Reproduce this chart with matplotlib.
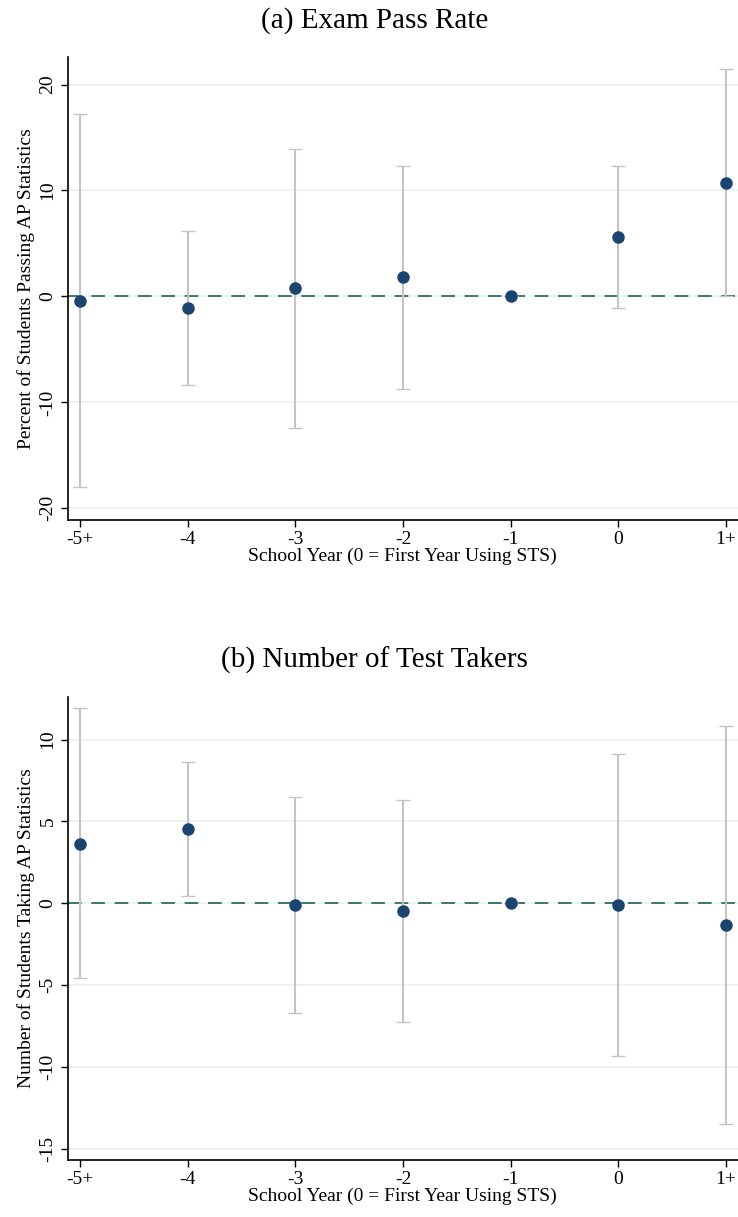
import numpy as np
import matplotlib.pyplot as plt

# event-study estimates
years = ['-5+', '-4', '-3', '-2', '-1', '0', '1+']

pass_coef = [-0.45, -1.1, 0.76, 1.85, 0.0, 5.6, 10.7]
pass_lo = [-18.0, -8.4, -12.4, -8.7, 0.0, -1.1, 0.0]
pass_hi = [17.2, 6.2, 13.9, 12.35, 0.0, 12.3, 21.5]

takers_coef = [3.63, 4.51, -0.1, -0.47, 0.0, -0.12, -1.33]
takers_lo = [-4.6, 0.43, -6.7, -7.27, 0.0, -9.34, -13.48]
takers_hi = [11.9, 8.6, 6.47, 6.33, 0.0, 9.09, 10.82]

plt.rcParams['font.family'] = ['Liberation Serif', 'DejaVu Serif']

fig = plt.figure(figsize=(7.38, 12.17), dpi=100)

panels = [
    dict(rect=[0.0917, 0.5727, 0.9083, 0.3805], coef=pass_coef, lo=pass_lo, hi=pass_hi,
         ylim=(-21.1, 22.6), yticks=[-20, -10, 0, 10, 20], title_y=0.983,
         title='(a) Exam Pass Rate', ylabel='Percent of Students Passing AP Statistics'),
    dict(rect=[0.0917, 0.0468, 0.9083, 0.3805], coef=takers_coef, lo=takers_lo, hi=takers_hi,
         ylim=(-15.7, 12.6), yticks=[-15, -10, -5, 0, 5, 10], title_y=0.457,
         title='(b) Number of Test Takers', ylabel='Number of Students Taking AP Statistics'),
]

x = np.arange(len(years))
for p in panels:
    ax = fig.add_axes(p['rect'])
    coef = np.array(p['coef'])
    err = [coef - np.array(p['lo']), np.array(p['hi']) - coef]
    for yt in p['yticks']:
        ax.axhline(yt, color='#eaf0f3', lw=1.3, zorder=0)
    ax.axhline(0, color='#3b7774', lw=1.4, ls=(0, (7, 5)), zorder=1)
    ax.errorbar(x, coef, yerr=err, fmt='none', ecolor='#c4c4c4', elinewidth=1.5,
                capsize=5, capthick=1.0, zorder=2)
    ax.plot(x, coef, 'o', color='#1a4570', ms=8, zorder=3)
    ax.set_xlim(-0.114, 6.11)
    ax.set_ylim(*p['ylim'])
    ax.set_xticks(x)
    ax.set_xticklabels(years)
    ax.set_yticks(p['yticks'])
    ax.set_yticklabels([str(t) for t in p['yticks']], rotation=90, va='center')
    ax.tick_params(labelsize=14, length=5, width=1.0, direction='out', pad=3)
    for s in ['top', 'right']:
        ax.spines[s].set_visible(False)
    for s in ['left', 'bottom']:
        ax.spines[s].set_linewidth(1.2)
    ax.set_xlabel('School Year (0 = First Year Using STS)', fontsize=14, labelpad=0)
    ax.set_ylabel(p['ylabel'], fontsize=14, labelpad=3)
    fig.text(0.507, p['title_y'], p['title'], fontsize=21, ha='center', va='center')

fig.savefig('out.png', dpi=100)
